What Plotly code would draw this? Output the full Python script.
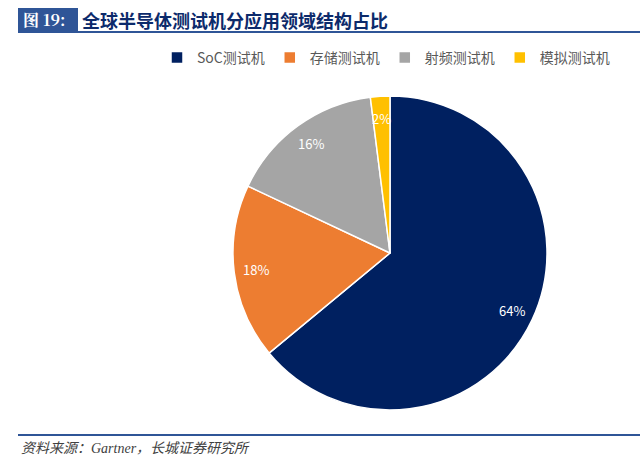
import math

import plotly.graph_objects as go

# data
categories = ["SoC测试机", "存储测试机", "射频测试机", "模拟测试机"]
shares = [64, 18, 16, 2]
colors = ["#002060", "#ED7D31", "#A5A5A5", "#FFC000"]

W, H = 640, 468
CX, CY, R = 390, 253, 157  # pie centre / radius in pixels


def px_x(v):
    return v / W


def px_y(v):
    return 1 - v / H


fig = go.Figure(
    go.Pie(
        labels=categories,
        values=shares,
        sort=False,
        direction="clockwise",
        rotation=0,
        marker=dict(colors=colors, line=dict(color="white", width=1.5)),
        textinfo="none",
        domain=dict(x=[px_x(CX - R), px_x(CX + R)], y=[px_y(CY + R), px_y(CY - R)]),
        hoverinfo="label+percent",
    )
)

# percentage labels, placed like Excel's "best fit" (out along the middle of each slice)
total = sum(shares)
cum = 0
for v in shares:
    ang = 2 * math.pi * (cum + v / 2) / total
    cum += v
    lx = CX + 0.86 * R * math.sin(ang)
    ly = CY - 0.86 * R * math.cos(ang)
    fig.add_annotation(x=px_x(lx), y=px_y(ly), xref="paper", yref="paper",
                       text=f"{v}%", showarrow=False, xanchor="center", yanchor="middle",
                       font=dict(family="Noto Sans CJK SC", size=13, color="white"))

# title bar
fig.add_shape(type="rect", xref="paper", yref="paper",
              x0=px_x(18), x1=px_x(78), y0=px_y(32), y1=px_y(8),
              fillcolor="#2F5597", line=dict(width=0))
fig.add_shape(type="line", xref="paper", yref="paper",
              x0=px_x(18), x1=1, y0=px_y(32), y1=px_y(32),
              line=dict(color="#2F5597", width=2))
fig.add_annotation(x=px_x(21), y=px_y(20), xref="paper", yref="paper",
                   text="<b>图 19:</b>", showarrow=False, xanchor="left", yanchor="middle",
                   font=dict(family="Noto Serif CJK SC, Liberation Serif, serif", size=16, color="white"))
fig.add_annotation(x=px_x(80), y=px_y(20), xref="paper", yref="paper",
                   text="<b>全球半导体测试机分应用领域结构占比</b>", showarrow=False,
                   xanchor="left", yanchor="middle",
                   font=dict(family="Noto Sans CJK SC", size=18, color="#0C2A6B"))

# bottom rule and source
fig.add_shape(type="line", xref="paper", yref="paper",
              x0=px_x(18), x1=1, y0=px_y(435), y1=px_y(435),
              line=dict(color="#2F5597", width=2))
fig.add_annotation(x=px_x(19), y=px_y(448), xref="paper", yref="paper",
                   text="<i>资料来源：Gartner，长城证券研究所</i>", showarrow=False,
                   xanchor="left", yanchor="middle",
                   font=dict(family="Liberation Serif, Noto Sans CJK SC", size=14, color="#404040"))

fig.update_layout(
    width=W,
    height=H,
    margin=dict(l=0, r=0, t=0, b=0),
    paper_bgcolor="white",
    plot_bgcolor="white",
    showlegend=True,
    legend=dict(
        orientation="h",
        x=px_x(386), xanchor="center",
        y=px_y(58), yanchor="middle",
        font=dict(family="Noto Sans CJK SC", size=14, color="#595959"),
        itemwidth=30,
        traceorder="normal",
    ),
)

# drop the browser's default 8px body margin so the 640x468 figure fills the window
fig.write_html("out.html", config={"displayModeBar": False},
               post_script="document.body.style.margin='0';")
